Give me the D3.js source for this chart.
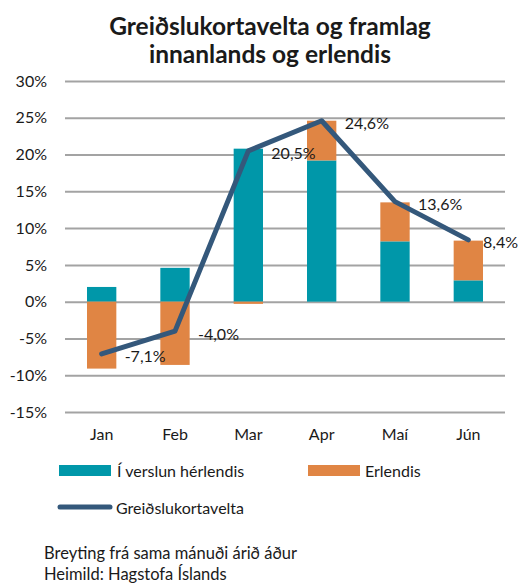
<!DOCTYPE html>
<html>
<head>
<meta charset="utf-8">
<script src="https://cdn.jsdelivr.net/npm/d3@7"></script>
<style>
  body { margin: 0; background: #fff; }
  text { font-family: Lato, "Open Sans", sans-serif; fill: #1a1a1a; }
</style>
</head>
<body>
<div id="chart"></div>
<script>
// data
var months = ["Jan", "Feb", "Mar", "Apr", "Maí", "Jún"];
var innanlands = [2.0, 4.6, 20.8, 19.2, 8.2, 2.9];
var erlendis = [-9.1, -8.6, -0.3, 5.4, 5.3, 5.4];
var heild = [-7.1, -4.0, 20.5, 24.6, 13.6, 8.4];
var yTicks = [30, 25, 20, 15, 10, 5, 0, -5, -10, -15];

var W = 520, H = 583;
var margin = {top: 81, left: 65, right: 15, bottom: 171};
var width = W - margin.left - margin.right,
    height = H - margin.top - margin.bottom;

var teal = "#0097a9", orange = "#e08544", navy = "#34587b";

var svg = d3.select("#chart").append("svg")
  .attr("width", W).attr("height", H);

//Title
var title = svg.append("text")
  .attr("text-anchor", "middle")
  .style("font-size", "24.5px")
  .style("font-weight", "bold");
title.append("tspan").attr("x", 270).attr("y", 35).text("Greiðslukortavelta og framlag");
title.append("tspan").attr("x", 270).attr("y", 63).text("innanlands og erlendis");

var g = svg.append("g")
  .attr("transform", "translate(" + margin.left + "," + margin.top + ")");

//Scales
var x = d3.scaleBand().domain(months).range([0, width]).paddingInner(0.6).paddingOuter(0.3);
var y = d3.scaleLinear().domain([-15, 30]).range([height, 0]);

//Grid + y labels
g.append("g")
  .call(d3.axisLeft(y).tickValues(yTicks).tickSize(-width).tickPadding(18)
    .tickFormat(function(d){ return d + "%"; }))
  .call(function(a){
    a.select(".domain").remove();
    a.selectAll("line").attr("stroke", "#a3a3a3").attr("stroke-width", 2);
    a.selectAll("text").style("font-size", "16px").attr("fill", "#1a1a1a");
  });

//x labels
g.append("g")
  .attr("transform", "translate(0," + height + ")")
  .call(d3.axisBottom(x).tickSize(0).tickPadding(17))
  .call(function(a){
    a.select(".domain").remove();
    a.selectAll("text").style("font-size", "16px").attr("fill", "#1a1a1a");
  });

//Stacked bars (diverging)
months.forEach(function(m, i){
  var a = innanlands[i], b = erlendis[i];
  g.append("rect")
    .attr("x", x(m)).attr("width", x.bandwidth())
    .attr("y", y(Math.max(a, 0))).attr("height", Math.abs(y(a) - y(0)))
    .style("fill", teal);
  var b0 = b >= 0 ? Math.max(a, 0) : Math.min(a, 0);
  var b1 = b0 + b;
  g.append("rect")
    .attr("x", x(m)).attr("width", x.bandwidth())
    .attr("y", y(Math.max(b0, b1))).attr("height", Math.abs(y(b0) - y(b1)))
    .style("fill", orange);
});

//Line
var cx = function(i){ return x(months[i]) + x.bandwidth() / 2; };
var line = d3.line()
  .x(function(d, i){ return cx(i); })
  .y(function(d){ return y(d); });

g.append("path")
  .datum(heild)
  .attr("d", line)
  .attr("fill", "none")
  .attr("stroke", navy)
  .attr("stroke-width", 5)
  .attr("stroke-linejoin", "round")
  .attr("stroke-linecap", "round");

//Value labels (kept inside the picture)
g.selectAll("text.val")
  .data(heild).enter().append("text")
  .attr("class", "val")
  .attr("y", function(d){ return y(d) + 3; })
  .attr("dy", ".35em")
  .style("font-size", "16px")
  .text(function(d){ return d.toFixed(1).replace(".", ",") + "%"; })
  .attr("x", function(d, i){
    var w = this.getComputedTextLength();
    return Math.min(cx(i) + 23, W - margin.left - w - 2);
  });

//Legend
var leg = svg.append("g");
leg.append("rect").attr("x", 59).attr("y", 465).attr("width", 52).attr("height", 11).style("fill", teal);
leg.append("text").attr("x", 117).attr("y", 471).attr("dy", ".35em").style("font-size", "16px").text("Í verslun hérlendis");
leg.append("rect").attr("x", 308).attr("y", 465).attr("width", 52).attr("height", 11).style("fill", orange);
leg.append("text").attr("x", 365).attr("y", 471).attr("dy", ".35em").style("font-size", "16px").text("Erlendis");
leg.append("line").attr("x1", 60).attr("x2", 110).attr("y1", 507).attr("y2", 507)
  .attr("stroke", navy).attr("stroke-width", 5).attr("stroke-linecap", "round");
leg.append("text").attr("x", 116).attr("y", 508).attr("dy", ".35em").style("font-size", "16px").text("Greiðslukortavelta");

//Footnote
svg.append("text").attr("x", 44).attr("y", 553).attr("dy", ".35em").style("font-size", "16.5px").text("Breyting frá sama mánuði árið áður");
svg.append("text").attr("x", 44).attr("y", 574).attr("dy", ".35em").style("font-size", "16.5px").text("Heimild: Hagstofa Íslands");
</script>
</body>
</html>
